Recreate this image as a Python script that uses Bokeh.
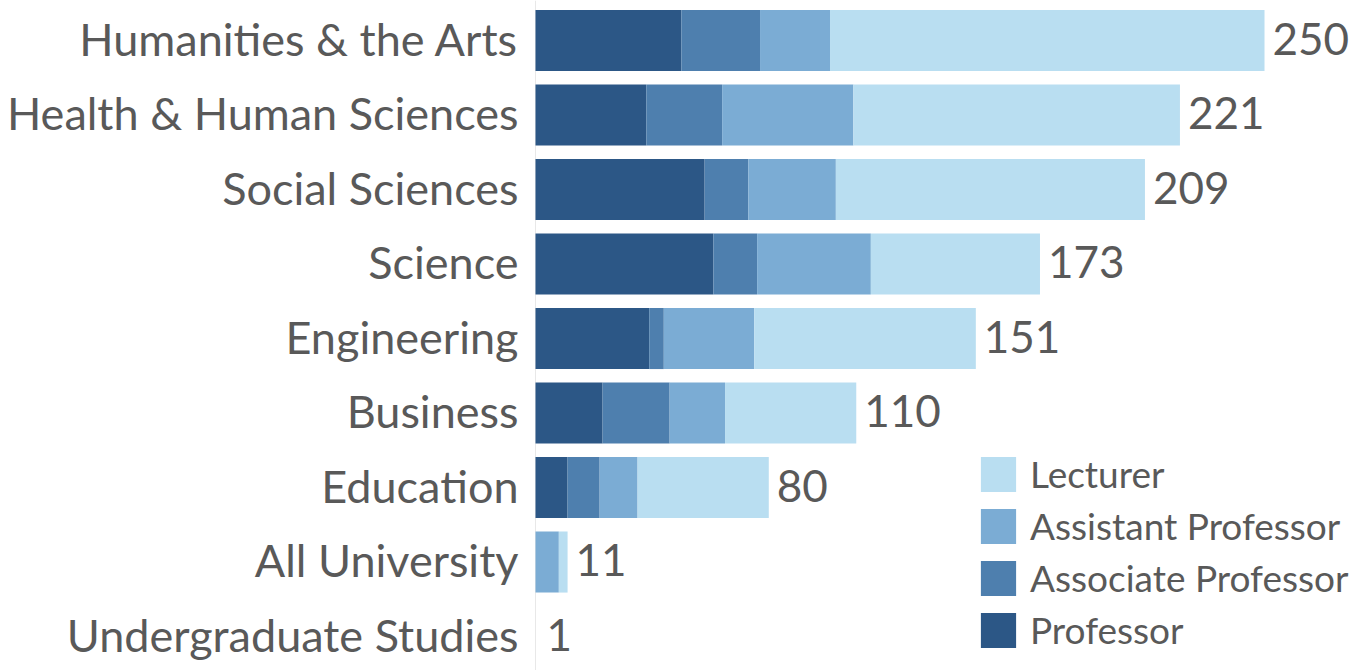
from bokeh.plotting import figure
from bokeh.models import ColumnDataSource, Range1d, Legend, LegendItem, Span
from bokeh.core.properties import value
from bokeh.embed import file_html
from bokeh.resources import INLINE

categories = ["Humanities & the Arts", "Health & Human Sciences", "Social Sciences",
              "Science", "Engineering", "Business", "Education", "All University",
              "Undergraduate Studies"]
professor = [50, 38, 58, 61, 39, 23, 11, 0, 0]
associate = [27, 26, 15, 15, 5, 23, 11, 0, 0]
assistant = [24, 45, 30, 39, 31, 19, 13, 8, 0]
lecturer = [149, 112, 106, 58, 76, 45, 45, 3, 0]
totals = [250, 221, 209, 173, 151, 110, 80, 11, 1]

series = ["Professor", "Associate Professor", "Assistant Professor", "Lecturer"]
colors = ["#2c5786", "#4e7fae", "#7bacd4", "#b9def1"]

n = len(categories)
ypos = [n - 1 - i for i in range(n)]

src = ColumnDataSource(dict(
    y=ypos, cat=categories, total=totals, tl=[str(t) for t in totals],
    zero=[0] * n,
    Professor=professor, **{"Associate Professor": associate,
                            "Assistant Professor": assistant},
    Lecturer=lecturer))

FONT = "Lato"
TXT = "#595959"

p = figure(width=1357, height=670, output_backend="svg", toolbar_location=None,
           x_range=Range1d(-183.47, 281.89), y_range=Range1d(-0.456, 8.537),
           min_border_left=0, min_border_right=0, min_border_top=0,
           min_border_bottom=0, outline_line_color=None)
p.axis.visible = False
p.grid.visible = False

p.add_layout(Span(location=0, dimension="height", line_color="#e8e8e8",
                  line_width=1, level="underlay"))

renderers = p.hbar_stack(series, y="y", height=0.82, color=colors, source=src,
                         line_color=None)

p.text(x="zero", y="y", text="cat", source=src, x_offset=-17, y_offset=-2,
       text_align="right", text_baseline="middle", text_color=TXT,
       text_font=value(FONT), text_font_size="45px")
p.text(x="total", y="y", text="tl", source=src, x_offset=8, y_offset=-2,
       text_align="left", text_baseline="middle", text_color=TXT,
       text_font=value(FONT), text_font_size="44px")

items = [LegendItem(label=s, renderers=[r]) for s, r in zip(series, renderers)]
items = items[::-1]
legend = Legend(items=items, location=(976, 18), padding=0, margin=0,
                glyph_width=44, glyph_height=44, label_standoff=10, spacing=7,
                label_text_font=FONT, label_text_font_size="37px",
                label_text_color=TXT, border_line_color=None,
                background_fill_alpha=0, label_height=44)
p.add_layout(legend)

open("out.html", "w").write(file_html(p, INLINE))
